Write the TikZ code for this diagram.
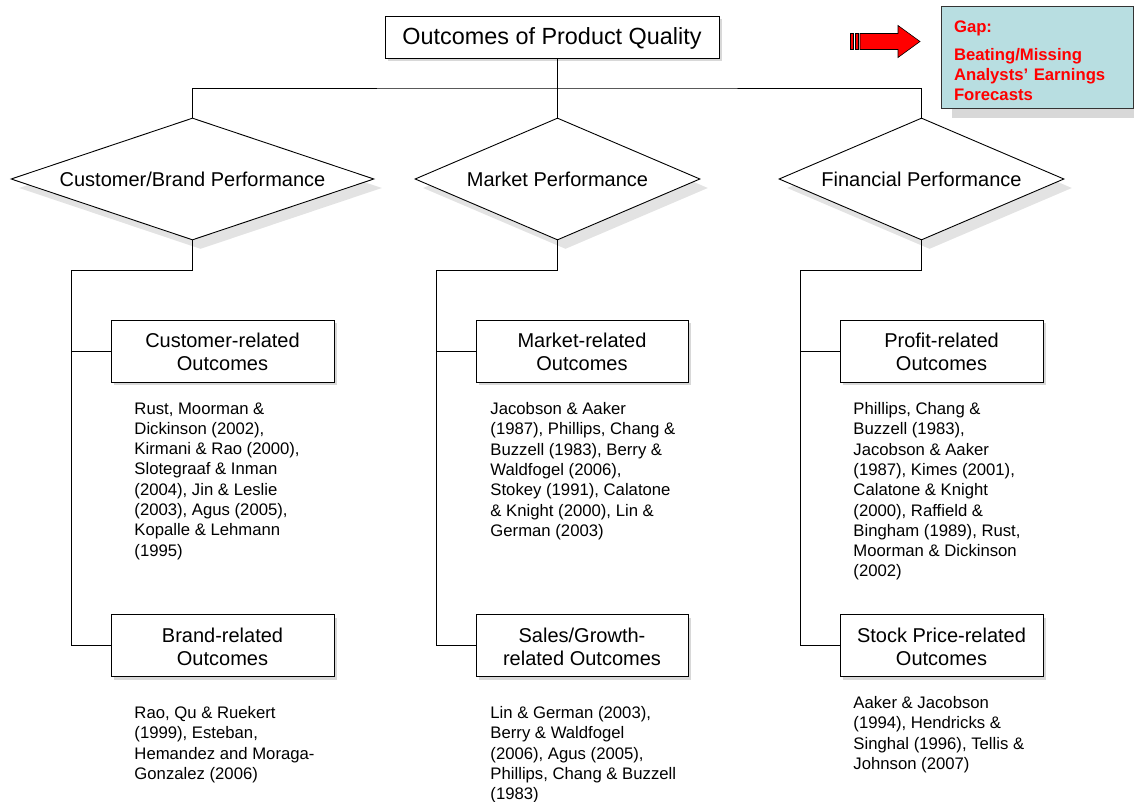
\documentclass[tikz,border=0pt]{standalone}
\usepackage{fontspec}
\setmainfont{Liberation Sans}
\usepackage{xcolor}
\usetikzlibrary{shapes.geometric, shadows, positioning}
\definecolor{gapblue}{RGB}{184,222,225}
\definecolor{gapred}{RGB}{255,0,0}

\tikzset{
  outbox/.style={draw, fill=white, align=center, inner sep=0pt, minimum height=62pt,
    font=\fontsize{20}{23}\selectfont,
    drop shadow={shadow xshift=3pt, shadow yshift=-3pt, fill=black!30}},
  perf/.style={diamond, draw, fill=white, inner sep=0pt, minimum height=122pt,
    font=\fontsize{20}{23}\selectfont,
    drop shadow={shadow xshift=8pt, shadow yshift=-9pt, fill=black!22}},
  refs/.style={anchor=north west, align=left, inner sep=0pt,
    font=\fontsize{16.7}{20.3}\selectfont},
}

\begin{document}
\begin{tikzpicture}[x=1pt, y=-1pt, line width=0.9pt]
    \useasboundingbox (0,0) rectangle (1134,802);

    % top of the tree
    \node[outbox, minimum width=334pt, minimum height=42pt, font=\fontsize{23.4}{27}\selectfont]
        (quality) at (552,37.5) {\rule{0pt}{19pt}Outcomes of Product Quality};

    % gap note with its arrow
    \node[draw=black!80, fill=gapblue, minimum width=192pt, minimum height=102pt,
        text width=166pt, inner xsep=13pt, align=left, text=gapred,
        font=\bfseries\fontsize{16.7}{20}\selectfont,
        drop shadow={shadow xshift=11pt, shadow yshift=-10pt, fill=black!30}]
        (gap) at (1037,57) {\rule{0pt}{20pt}Gap:\\[8pt]Beating/Missing\\Analysts’ Earnings\\Forecasts};
    \draw[fill=red, line width=0.6pt] (860,33.5) -- (898,33.5) -- (898,25.5) -- (920,41.5)
        -- (898,57.5) -- (898,49.5) -- (860,49.5) -- cycle;
    \draw[fill=red, line width=0.6pt] (850.5,33.5) rectangle (853.5,49.5);
    \draw[fill=red, line width=0.6pt] (855,33.5) rectangle (858.5,49.5);

    % performance diamonds
    \node[perf, minimum width=363pt, aspect=2.98] (custperf) at (192.5,179) {Customer/Brand Performance};
    \node[perf, minimum width=285pt, aspect=2.34] (mktperf) at (557.5,179) {Market Performance};
    \node[perf, minimum width=285pt, aspect=2.34] (finperf) at (921.5,179) {Financial Performance};

    % outcome boxes
    \node[outbox, minimum width=223pt] (custout) at (222.5,351) {\rule{0pt}{17pt}Customer-related\\Outcomes};
    \node[outbox, minimum width=223pt] (brandout) at (222.5,645.5) {\rule{0pt}{17pt}Brand-related\\Outcomes};
    \node[outbox, minimum width=212pt] (mktout) at (582,351) {\rule{0pt}{17pt}Market-related\\Outcomes};
    \node[outbox, minimum width=212pt] (salesout) at (582,645.5) {\rule{0pt}{17pt}Sales/Growth-\\related Outcomes};
    \node[outbox, minimum width=203pt] (profout) at (941.5,351) {\rule{0pt}{17pt}Profit-related\\Outcomes};
    \node[outbox, minimum width=203pt] (stockout) at (941.5,645.5) {\rule{0pt}{17pt}Stock Price-related\\Outcomes};

    % connectors
    \coordinate (bus) at (557.5,88);
    \draw (quality.south -| bus) -- (mktperf.north);
    \draw (custperf.north) |- (bus) -| (finperf.north);

    \coordinate (custspine) at (71,270);
    \coordinate (mktspine) at (436,270);
    \coordinate (finspine) at (800,270);
    \draw (custperf.south) |- (custspine) |- (brandout.west);
    \draw (custspine |- custout.west) -- (custout.west);
    \draw (mktperf.south) |- (mktspine) |- (salesout.west);
    \draw (mktspine |- mktout.west) -- (mktout.west);
    \draw (finperf.south) |- (finspine) |- (stockout.west);
    \draw (finspine |- profout.west) -- (profout.west);

    % references
    \node[refs] (custrefs) at (134,402) {Rust, Moorman \&\\Dickinson (2002),\\Kirmani \& Rao (2000),\\Slotegraaf \& Inman\\(2004), Jin \& Leslie\\(2003), Agus (2005),\\Kopalle \& Lehmann\\(1995)};
    \node[refs] (mktrefs) at (490,402) {Jacobson \& Aaker\\(1987), Phillips, Chang \&\\Buzzell (1983), Berry \&\\Waldfogel (2006),\\Stokey (1991), Calatone\\\& Knight (2000), Lin \&\\German (2003)};
    \node[refs] (profrefs) at (853,402) {Phillips, Chang \&\\Buzzell (1983),\\Jacobson \& Aaker\\(1987), Kimes (2001),\\Calatone \& Knight\\(2000), Raffield \&\\Bingham (1989), Rust,\\Moorman \& Dickinson\\(2002)};
    \node[refs] (brandrefs) at (134,706) {Rao, Qu \& Ruekert\\(1999), Esteban,\\Hemandez and Moraga-\\Gonzalez (2006)};
    \node[refs] (salesrefs) at (490,706) {Lin \& German (2003),\\Berry \& Waldfogel\\(2006), Agus (2005),\\Phillips, Chang \& Buzzell\\(1983)};
    \node[refs] (stockrefs) at (853,696) {Aaker \& Jacobson\\(1994), Hendricks \&\\Singhal (1996), Tellis \&\\Johnson (2007)};
\end{tikzpicture}
\end{document}
